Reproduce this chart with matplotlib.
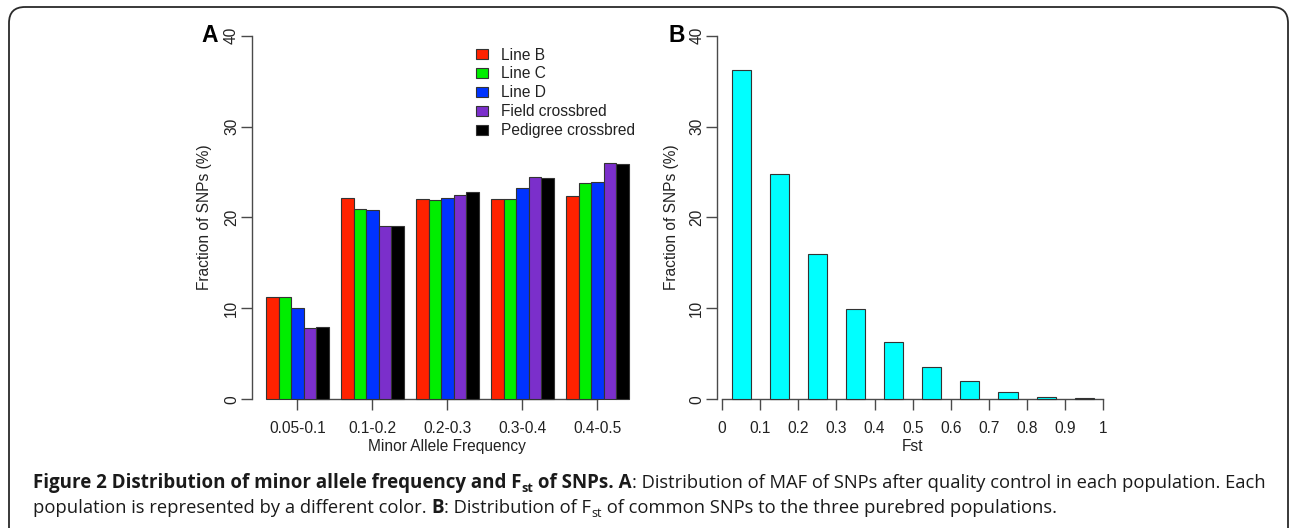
import numpy as np
import matplotlib
matplotlib.use("Agg")
import matplotlib.pyplot as plt
from matplotlib.patches import FancyBboxPatch
from matplotlib.transforms import blended_transform_factory

# ---- data -------------------------------------------------------------
maf_bins = ["0.05-0.1", "0.1-0.2", "0.2-0.3", "0.3-0.4", "0.4-0.5"]
populations = ["Line B", "Line C", "Line D", "Field crossbred", "Pedigree crossbred"]
line_b = [11.3, 22.2, 22.0, 22.0, 22.4]
line_c = [11.25, 20.9, 21.9, 22.0, 23.8]
line_d = [10.0, 20.8, 22.1, 23.2, 23.9]
field_cross = [7.85, 19.1, 22.5, 24.5, 26.0]
pedigree_cross = [7.9, 19.1, 22.8, 24.35, 25.9]
pop_colors = ["#ff2200", "#00ee00", "#0033ff", "#7b2fcb", "#000000"]

fst_centers = [0.05, 0.15, 0.25, 0.35, 0.45, 0.55, 0.65, 0.75, 0.85, 0.95]
fst_fraction = [36.2, 24.8, 16.0, 9.95, 6.35, 3.6, 2.05, 0.75, 0.3, 0.1]
fst_ticks = [0, 0.1, 0.2, 0.3, 0.4, 0.5, 0.6, 0.7, 0.8, 0.9, 1]
fst_tick_labels = ["0", "0.1", "0.2", "0.3", "0.4", "0.5", "0.6", "0.7", "0.8", "0.9", "1"]
y_ticks = [0, 10, 20, 30, 40]

# ---- figure -----------------------------------------------------------
W, H = 1292, 528
plt.rcParams["font.family"] = ["Liberation Sans", "DejaVu Sans"]
fig = plt.figure(figsize=(W / 100, H / 100), dpi=100)

AX_COL = "#4a4a4a"
TXT_COL = "#222222"
FS = 11.2


def px_axes(left, top, width, height):
    return fig.add_axes([left / W, 1 - (top + height) / H, width / W, height / H])


def style_axes(ax):
    for s in ("top", "right"):
        ax.spines[s].set_visible(False)
    for s in ("left", "bottom"):
        ax.spines[s].set_color(AX_COL)
        ax.spines[s].set_linewidth(1.0)
    ax.set_ylim(0, 40)
    ax.spines["left"].set_bounds(0, 40)
    ax.set_yticks(y_ticks)
    ax.set_yticklabels([str(v) for v in y_ticks])
    ax.tick_params(axis="both", direction="out", length=8, width=1.0,
                   color=AX_COL, labelcolor=TXT_COL, labelsize=FS)
    ax.tick_params(axis="y", labelrotation=90, pad=1)
    ax.tick_params(axis="x", pad=7.5)
    for lab in ax.get_yticklabels():
        lab.set_va("center")


# ---- panel A: grouped bars --------------------------------------------
axA = px_axes(251.5, 35.7, 391.5, 363.6)
series = [line_b, line_c, line_d, field_cross, pedigree_cross]
n_pop = len(series)
group_left = np.arange(len(maf_bins)) * (n_pop + 1) + 1
for i, (vals, col, name) in enumerate(zip(series, pop_colors, populations)):
    axA.bar(group_left + i + 0.5, vals, width=1.0, color=col,
            edgecolor="#333333", linewidth=0.8, label=name, clip_on=False, zorder=3)
group_centers = group_left + n_pop / 2
axA.set_xlim(-0.16, 31.16)
style_axes(axA)
axA.set_xticks(group_centers)
axA.set_xticklabels(maf_bins)
axA.spines["bottom"].set_bounds(group_centers[0], group_centers[-1])

leg = axA.legend(loc="upper left", bbox_to_anchor=(475.7 / W, 1 - 47.5 / H),
                 bbox_transform=fig.transFigure, frameon=False, fontsize=FS,
                 handlelength=0.77, handleheight=0.6, handletextpad=0.85,
                 labelspacing=0.25, borderpad=0, borderaxespad=0)
for t in leg.get_texts():
    t.set_color(TXT_COL)

trA = blended_transform_factory(axA.transData, fig.transFigure)
axA.text(group_centers[2], 1 - 446.7 / H, "Minor Allele Frequency", transform=trA,
         ha="center", va="center", fontsize=FS, color=TXT_COL)

# ---- panel B: Fst histogram --------------------------------------------
axB = px_axes(716.7, 35.7, 401.9, 363.6)
axB.bar(fst_centers, fst_fraction, width=0.05, color="#00ffff",
        edgecolor="#333333", linewidth=0.8, clip_on=False, zorder=3)
axB.set_xlim(-0.0139, 1.04)
style_axes(axB)
axB.set_xticks(fst_ticks)
axB.set_xticklabels(fst_tick_labels)
axB.spines["bottom"].set_bounds(0, 1)

trB = blended_transform_factory(axB.transData, fig.transFigure)
axB.text(0.5, 1 - 446.7 / H, "Fst", transform=trB,
         ha="center", va="center", fontsize=FS, color=TXT_COL)

# y-axis titles and panel letters
for xc in (205, 671.7):
    fig.text(xc / W, 1 - 217.5 / H, "Fraction of SNPs (%)", rotation=90,
             ha="center", va="center", fontsize=FS, color=TXT_COL)
fig.text(210 / W, 1 - 36 / H, "A", ha="center", va="center",
         fontsize=16.5, fontweight="bold", color="black")
fig.text(677 / W, 1 - 36 / H, "B", ha="center", va="center",
         fontsize=16.5, fontweight="bold", color="black")

# ---- frame and caption (pixel coordinates overlay) --------------------
ov = fig.add_axes([0, 0, 1, 1], zorder=-1)
ov.set_xlim(0, W)
ov.set_ylim(H, 0)
ov.axis("off")
ov.add_patch(FancyBboxPatch((9, 7), 1279, 540,
                            boxstyle="round,pad=0,rounding_size=16",
                            facecolor="none", edgecolor="#2a2a2a",
                            linewidth=1.3, clip_on=False))

renderer = fig.canvas.get_renderer()
CAP_BOLD_FS = 13.5
CAP_REG_FS = 13.2
CAP_FONT = ["Open Sans", "DejaVu Sans"]


def draw_segments(x, y, segments):
    for text, weight, sub in segments:
        base = CAP_BOLD_FS if weight == "bold" else CAP_REG_FS
        size = base * (0.68 if sub else 1.0)
        yy = y + (4 if sub else 0)
        t = ov.text(x, yy, text, fontsize=size, fontweight=weight,
                    family=CAP_FONT, color="#1a1a1a", ha="left", va="baseline")
        x += t.get_window_extent(renderer).width


cap_x = 33
draw_segments(cap_x, 488.3, [
    ("Figure 2 Distribution of minor allele frequency and F", "bold", False),
    ("st", "bold", True),
    (" of SNPs. A", "bold", False),
    (": Distribution of MAF of SNPs after quality control in each population. Each",
     "normal", False),
])
draw_segments(cap_x, 513.3, [
    ("population is represented by a different color. ", "normal", False),
    ("B", "bold", False),
    (": Distribution of F", "normal", False),
    ("st", "normal", True),
    (" of common SNPs to the three purebred populations.", "normal", False),
])

fig.savefig("out.png", dpi=100)
